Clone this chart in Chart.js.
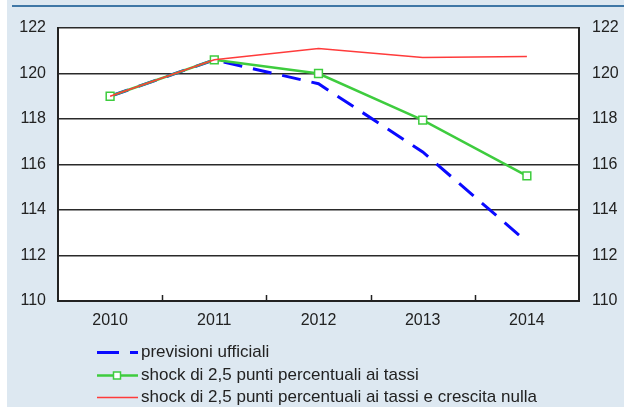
<!DOCTYPE html>
<html>
<head>
<meta charset="utf-8">
<script src="https://cdn.jsdelivr.net/npm/chart.js@4/dist/chart.umd.min.js"></script>
<style>
  html, body { margin: 0; padding: 0; }
  body {
    width: 624px; height: 407px; overflow: hidden; position: relative;
    background: linear-gradient(to right, #ffffff 0 7px, #dde8f1 7px);
    font-family: "Liberation Sans", Arial, sans-serif;
  }
  #topLine { position: absolute; left: 12px; right: 0; top: 5px; height: 2px; background: #3f77a6; }
  #wrap { position: absolute; left: 0; top: 0; width: 624px; height: 407px; }
</style>
</head>
<body>
<div id="topLine"></div>
<div id="wrap"><canvas id="chart"></canvas></div>
<script>
// anni e valori
const anni = ['2010', '2011', '2012', '2013', '2014'];
const previsioniUfficiali = [119.0, 120.6, 119.55, 116.55, 112.6];
const shockTassi = [119.0, 120.6, 120.0, 117.95, 115.5];
const shockTassiCrescitaNulla = [119.0, 120.6, 121.1, 120.7, 120.75];

const yMin = 110, yMax = 122, yStep = 2;

const serieLabels = [
  'previsioni ufficiali',
  'shock di 2,5 punti percentuali ai tassi',
  'shock di 2,5 punti percentuali ai tassi e crescita nulla'
];

const FONT = '"Liberation Sans", Arial, sans-serif';
const INK = '#222222';

// sfondo bianco dell'area del grafico
const plotBg = {
  id: 'plotBg',
  beforeDraw(chart) {
    const { ctx, chartArea: a } = chart;
    ctx.save();
    ctx.fillStyle = '#ffffff';
    ctx.fillRect(a.left, a.top, a.right - a.left, a.bottom - a.top);
    ctx.restore();
  }
};

// tacche interne sull'asse x, tra una categoria e l'altra
const innerTicks = {
  id: 'innerTicks',
  afterDatasetsDraw(chart) {
    const { ctx, chartArea: a } = chart;
    const x = chart.scales.x;
    ctx.save();
    ctx.strokeStyle = INK;
    ctx.lineWidth = 1.5;
    for (let i = 0; i < anni.length - 1; i++) {
      const px = Math.round((x.getPixelForValue(i) + x.getPixelForValue(i + 1)) / 2) + 0.5;
      ctx.beginPath();
      ctx.moveTo(px, a.bottom);
      ctx.lineTo(px, a.bottom - 6);
      ctx.stroke();
    }
    ctx.restore();
  }
};

// legenda su una colonna sotto il grafico
const legendaColonna = {
  id: 'legendaColonna',
  afterDraw(chart) {
    const { ctx, chartArea: a } = chart;
    const x0 = 97, x1 = 138, tx = 141;
    const y0 = a.bottom + 51, dy = 22.5;
    ctx.save();
    ctx.font = '17px ' + FONT;
    ctx.textBaseline = 'middle';
    serieLabels.forEach((lab, i) => {
      const y = Math.round(y0 + i * dy) + 0.5;
      const ds = chart.data.datasets.find(d => d.label === lab);
      ctx.strokeStyle = ds.borderColor;
      ctx.lineWidth = ds.borderWidth;
      ctx.setLineDash(ds.borderDash ? [22, 11] : []);
      ctx.beginPath();
      ctx.moveTo(x0, y);
      ctx.lineTo(x1, y);
      ctx.stroke();
      ctx.setLineDash([]);
      if (ds.pointRadius > 0) {
        const s = 7;
        ctx.fillStyle = '#ffffff';
        ctx.lineWidth = 1.5;
        ctx.fillRect(117 - s / 2, y - s / 2, s, s);
        ctx.strokeRect(117 - s / 2, y - s / 2, s, s);
      }
      ctx.fillStyle = INK;
      ctx.fillText(lab, tx, y);
    });
    ctx.restore();
  }
};

const yTicks = {
  color: INK,
  font: { family: FONT, size: 16 },
  stepSize: yStep
};

new Chart(document.getElementById('chart'), {
  type: 'line',
  data: {
    labels: anni,
    datasets: [
      {
        label: serieLabels[0],
        data: previsioniUfficiali,
        borderColor: '#0a0aff',
        borderWidth: 3,
        borderDash: [19, 11],
        pointRadius: 0,
        tension: 0,
        order: 3
      },
      {
        label: serieLabels[1],
        data: shockTassi,
        borderColor: '#3ecc3e',
        borderWidth: 2.5,
        pointStyle: 'rect',
        pointRadius: 5.5,
        pointBorderWidth: 1.5,
        pointBackgroundColor: '#ffffff',
        pointBorderColor: '#3ecc3e',
        tension: 0,
        order: 2
      },
      {
        label: serieLabels[2],
        data: shockTassiCrescitaNulla,
        borderColor: '#ff3b3b',
        borderWidth: 1.5,
        pointRadius: 0,
        tension: 0,
        order: 1
      }
    ]
  },
  options: {
    responsive: true,
    maintainAspectRatio: false,
    animation: false,
    layout: { padding: { top: 28, left: 0, right: 0, bottom: 76 } },
    plugins: {
      legend: { display: false },
      tooltip: { enabled: false }
    },
    scales: {
      x: {
        offset: true,
        grid: { display: false, drawTicks: false },
        border: { display: true, color: INK, width: 2 },
        ticks: { color: INK, font: { family: FONT, size: 16 }, padding: 10 },
        afterFit: (s) => { s.height = 30; }
      },
      y: {
        position: 'left',
        min: yMin, max: yMax,
        grid: { color: '#2a2a2a', lineWidth: 1.5, drawTicks: false },
        border: { display: true, color: INK, width: 2 },
        ticks: { ...yTicks, padding: 12 },
        afterFit: (s) => { s.width = 58; }
      },
      y2: {
        position: 'right',
        min: yMin, max: yMax,
        grid: { display: false, drawTicks: false },
        border: { display: true, color: INK, width: 2 },
        ticks: { ...yTicks, padding: 13 },
        afterFit: (s) => { s.width = 45; }
      }
    }
  },
  plugins: [plotBg, innerTicks, legendaColonna]
});
</script>
</body>
</html>
